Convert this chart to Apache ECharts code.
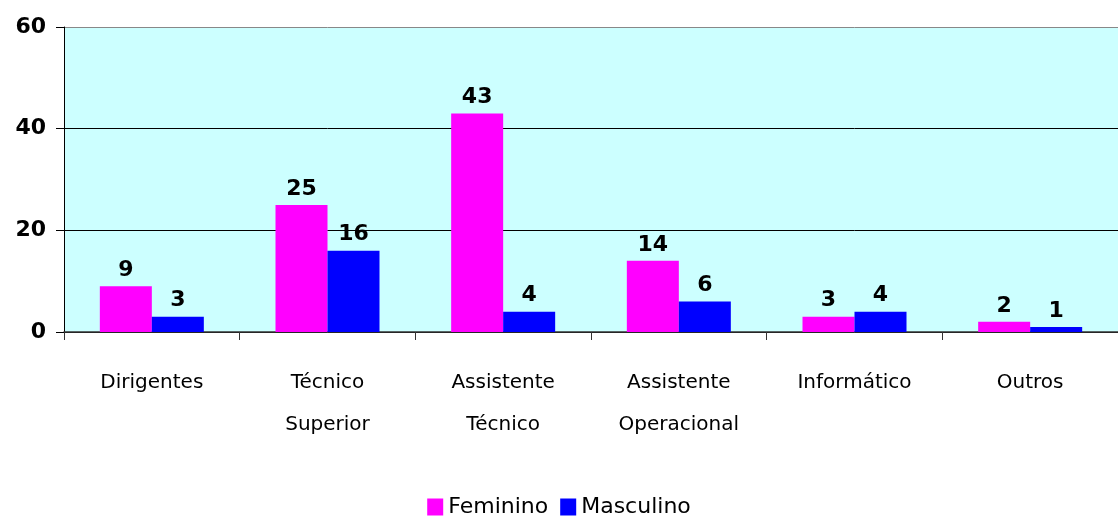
<!DOCTYPE html>
<html>
<head>
<meta charset="utf-8">
<script src="https://cdn.jsdelivr.net/npm/echarts@6/dist/echarts.min.js"></script>
<style>
  html, body { margin: 0; padding: 0; background: #fff; }
  #chart { width: 1118px; height: 520px; }
</style>
</head>
<body>
<div id="chart"></div>
<script>
var categories = ['Dirigentes', 'Técnico\nSuperior', 'Assistente\nTécnico', 'Assistente\nOperacional', 'Informático', 'Outros'];
var feminino = [9, 25, 43, 14, 3, 2];
var masculino = [3, 16, 4, 6, 4, 1];
var yTicks = [0, 20, 40, 60];

var font = '"Comic Sans MS", "DejaVu Sans", sans-serif';

var labelStyle = {
    show: true,
    position: 'top',
    distance: 5,
    color: '#000',
    fontFamily: font,
    fontWeight: 'bold',
    fontSize: 22
};

var option = {
    animation: false,
    backgroundColor: '#fff',
    grid: {
        left: 64,
        top: 27,
        width: 1062,
        height: 305,
        show: true,
        backgroundColor: '#CCFFFF',
        borderWidth: 0
    },
    legend: {
        bottom: -3,
        left: 'center',
        itemWidth: 16,
        itemHeight: 17,
        itemGap: 12,
        icon: 'rect',
        textStyle: { fontFamily: font, fontSize: 22, color: '#000' },
        data: ['Feminino', 'Masculino']
    },
    xAxis: {
        type: 'category',
        data: categories,
        axisLine: { lineStyle: { color: '#333', width: 1.5 } },
        axisTick: { show: true, length: 8, lineStyle: { color: '#333' } },
        axisLabel: {
            margin: 30,
            color: '#000',
            fontFamily: font,
            fontSize: 20,
            lineHeight: 42
        }
    },
    yAxis: {
        type: 'value',
        min: yTicks[0],
        max: yTicks[yTicks.length - 1],
        interval: 20,
        axisLine: { show: true, lineStyle: { color: '#000', width: 1 } },
        axisTick: { show: true, length: 8, lineStyle: { color: '#000' } },
        splitLine: {
            show: true,
            lineStyle: { color: ['#000', '#000', '#000', '#888'], width: 1 }
        },
        axisLabel: {
            margin: 18,
            color: '#000',
            fontFamily: font,
            fontWeight: 'bold',
            fontSize: 22
        }
    },
    series: [
        {
            name: 'Feminino',
            type: 'bar',
            data: feminino,
            barWidth: 52,
            barGap: '0%',
            itemStyle: { color: '#FF00FF' },
            label: labelStyle
        },
        {
            name: 'Masculino',
            type: 'bar',
            data: masculino,
            barWidth: 52,
            itemStyle: { color: '#0000FF' },
            label: labelStyle
        }
    ]
};

var myChart = echarts.init(document.getElementById('chart'));
myChart.setOption(option);
</script>
</body>
</html>
